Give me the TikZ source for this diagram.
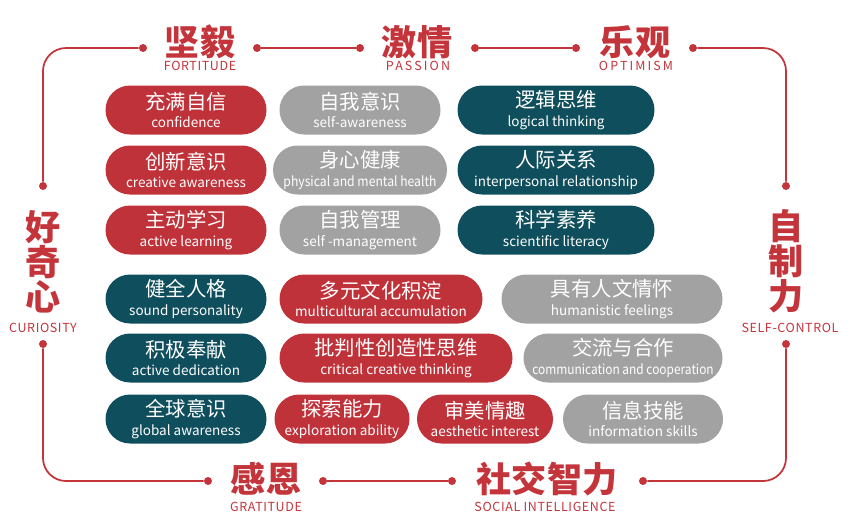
\documentclass[tikz,border=0pt]{standalone}
\usepackage{fontspec}
\setmainfont{Noto Sans CJK SC}
\newfontfamily\captfont[LetterSpace=5]{Noto Sans CJK SC}
\newfontfamily\captwide[LetterSpace=17]{Noto Sans CJK SC}
\definecolor{pillred}{HTML}{C0323A}
\definecolor{pillteal}{HTML}{0F4E5C}
\definecolor{pillgray}{HTML}{A2A2A2}
\definecolor{framered}{HTML}{C4343B}
\newcommand\zh[1]{{\fontsize{11.6}{10.5}\selectfont #1}}
\newcommand\tight[2]{\scalebox{#1}[1]{#2}}

\begin{document}
\begin{tikzpicture}[x=0.02cm,y=-0.02cm,
    pill/.style={rounded corners=0.49cm, minimum height=0.98cm, minimum width=#1*0.02cm,
      inner sep=0pt, text=white, align=center, font=\fontsize{7.7}{10.5}\selectfont},
    redpill/.style={pill=#1, fill=pillred},
    tealpill/.style={pill=#1, fill=pillteal},
    graypill/.style={pill=#1, fill=pillgray},
    title/.style={text=framered, inner sep=0pt, align=center,
      font=\fontsize{20}{18.4}\selectfont\bfseries},
    caption/.style={text=framered, inner sep=0pt, font=\fontsize{7.1}{8}\selectfont\captfont},
    widecaption/.style={caption, font=\fontsize{7.1}{8}\selectfont\captwide},
    dot/.style={circle, fill=framered, inner sep=0pt, minimum size=0.16cm},
    frame/.style={draw=framered, line width=1pt, rounded corners=0.46cm}]
  \useasboundingbox (0,0) rectangle (851,529);

  % titles round the frame
  \node[title] (fort) at (200,42) {坚毅};
  \node[caption] (fortEn) at (200,66) {FORTITUDE};
  \node[title] (pass) at (417,42) {激情};
  \node[widecaption] (passEn) at (418,66) {PASSION};
  \node[title] (opt) at (635,42) {乐观};
  \node[widecaption] (optEn) at (636,66) {OPTIMISM};
  \node[title] (cur) at (43,262) {好\\奇\\心};
  \node[caption] (curEn) at (43,328) {CURIOSITY};
  \node[title] (ctrl) at (786,261) {自\\制\\力};
  \node[caption] (ctrlEn) at (790,328) {SELF-CONTROL};
  \node[title] (grat) at (266,479) {感恩};
  \node[caption] (gratEn) at (266,507) {GRATITUDE};
  \node[title] (soc) at (547,479) {社交智力};
  \node[caption] (socEn) at (545,507) {SOCIAL INTELLIGENCE};

  % dots
  \node[dot] (fortL) at (143,48) {};
  \node[dot] (fortR) at (257,48) {};
  \node[dot] (passL) at (360,48) {};
  \node[dot] (passR) at (475,48) {};
  \node[dot] (optL) at (576,48) {};
  \node[dot] (optR) at (693,48) {};
  \node[dot] (curU) at (43,186) {};
  \node[dot] (curD) at (43,344) {};
  \node[dot] (ctrlU) at (786,186) {};
  \node[dot] (ctrlD) at (786,344) {};
  \node[dot] (gratL) at (208,481) {};
  \node[dot] (gratR) at (323,481) {};
  \node[dot] (socL) at (452,481) {};
  \node[dot] (socR) at (643,481) {};

  % frame
  \draw[frame] (fortL) -| (curU);
  \draw[frame] (fortR) -- (passL);
  \draw[frame] (passR) -- (optL);
  \draw[frame] (optR) -| (ctrlU);
  \draw[frame] (curD) |- (gratL);
  \draw[frame] (gratR) -- (socL);
  \draw[frame] (socR) -| (ctrlD);

  % upper block
  \node[redpill=161] (conf) at (186,110) {\zh{充满自信}\\confidence};
  \node[graypill=161] (selfaw) at (360,110) {\zh{自我意识}\\self-awareness};
  \node[tealpill=197] (logic) at (556,110) {\zh{逻辑思维}\\logical thinking};
  \node[redpill=161] (creat) at (186,170) {\zh{创新意识}\\creative awareness};
  \node[graypill=174] (health) at (360,170) {\zh{身心健康}\\\tight{0.9}{physical and mental health}};
  \node[tealpill=197] (inter) at (556,170) {\zh{人际关系}\\interpersonal relationship};
  \node[redpill=161] (learn) at (186,230) {\zh{主动学习}\\active learning};
  \node[graypill=161] (manage) at (360,230) {\zh{自我管理}\\self -management};
  \node[tealpill=197] (sci) at (556,230) {\zh{科学素养}\\scientific literacy};

  % lower block
  \node[tealpill=161] (person) at (186,299) {\zh{健全人格}\\sound personality};
  \node[redpill=203] (multi) at (381,299) {\zh{多元文化积淀}\\multicultural accumulation};
  \node[graypill=221] (human) at (612,299) {\zh{具有人文情怀}\\humanistic feelings};
  \node[tealpill=161] (dedic) at (186,358) {\zh{积极奉献}\\active dedication};
  \node[redpill=233] (crit) at (396,358) {\zh{批判性创造性思维}\\critical creative thinking};
  \node[graypill=199] (comm) at (623,358) {\zh{交流与合作}\\\tight{0.88}{communication and cooperation}};
  \node[tealpill=161] (global) at (186,419) {\zh{全球意识}\\global awareness};
  \node[redpill=135] (explore) at (342,419) {\zh{探索能力}\\exploration ability};
  \node[redpill=136] (aesth) at (485,419) {\zh{审美情趣}\\aesthetic interest};
  \node[graypill=160] (info) at (643,419) {\zh{信息技能}\\information skills};
\end{tikzpicture}
\end{document}
